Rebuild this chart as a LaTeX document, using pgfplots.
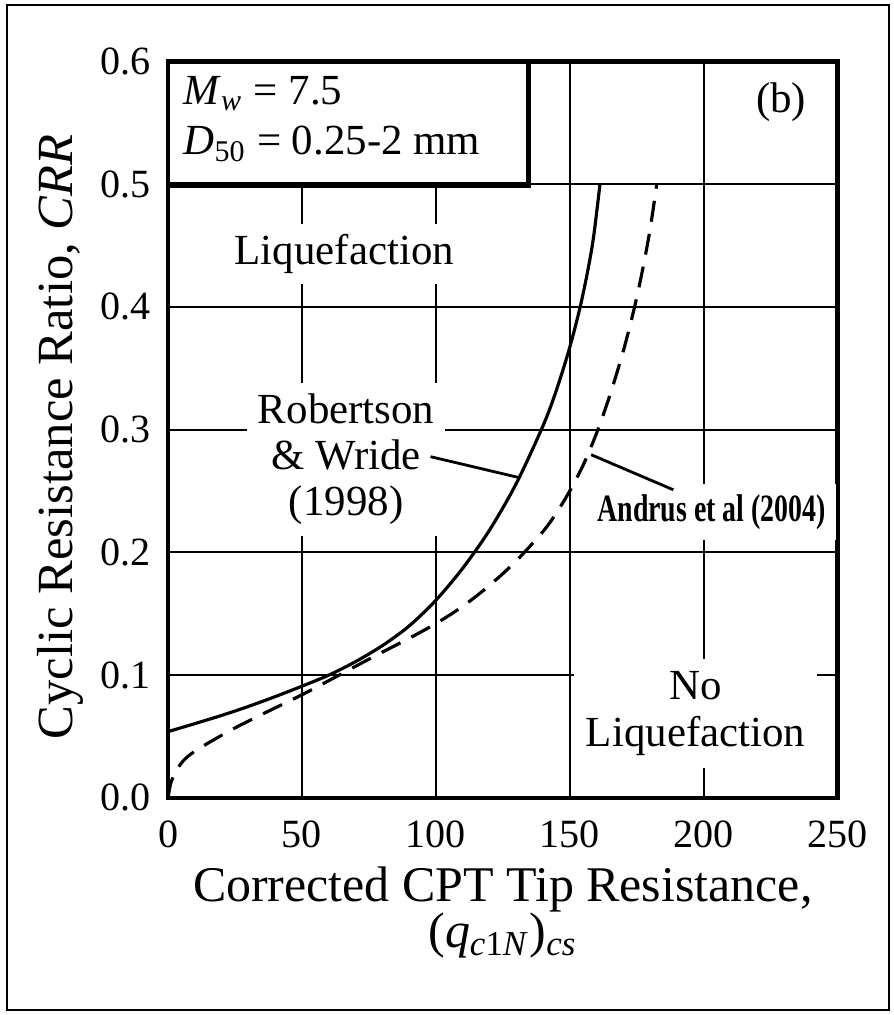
\documentclass[border=0pt]{standalone}
\usepackage{fontspec}
\setmainfont{Liberation Serif}
\usepackage{pgfplots}
\pgfplotsset{compat=1.18}
\pgfplotstableread{
q crr
0 0.054
10 0.0605
20 0.0672
30 0.0745
40 0.0825
50 0.091
60 0.100
70 0.111
80 0.124
90 0.140
100 0.161
110 0.187
120 0.218
130 0.256
140 0.303
145 0.332
150 0.367
154 0.401
157 0.4325
159 0.4585
161.3 0.500
}\robertson
\pgfplotstableread{
q crr
0 0.000
1 0.012
3 0.022
6 0.031
10 0.038
16 0.046
25 0.057
35 0.068
50 0.084
63 0.099
75 0.113
90 0.130
100 0.142
110 0.156
120 0.173
130 0.193
140 0.217
145 0.232
150 0.250
155 0.271
160 0.297
165 0.328
170 0.364
174 0.398
177 0.428
180 0.463
182.5 0.500
}\andrus
\begin{document}
\begin{tikzpicture}[x=0.01cm,y=0.01cm]
\path (0,0) rectangle (894,1015);
\draw[line width=0.6pt] (7,5) rectangle (889,1010);
\begin{axis}[
  at={(1.68cm,2.17cm)}, anchor=south west,
  width=6.69cm, height=7.36cm, scale only axis,
  xmin=0, xmax=250, ymin=0, ymax=0.6,
  xtick={0,50,100,150,200,250},
  ytick={0,0.1,0.2,0.3,0.4,0.5,0.6},
  grid=major,
  major grid style={black, line width=0.6pt},
  axis line style={line width=1.2pt},
  major tick length=0pt,
  tick label style={font=\fontsize{11.4}{13}\selectfont},
  /pgf/number format/assume math mode=true,
  yticklabel style={/pgf/number format/fixed,/pgf/number format/fixed zerofill,/pgf/number format/precision=1, xshift=-1.5pt},
  xticklabel style={yshift=-3pt},
  xlabel={Corrected CPT Tip Resistance,\\(\textit{q}\textsubscript{\textit{c}1\textit{N}})\textsubscript{\textit{cs}}},
  xlabel style={at={(axis description cs:0.5,-0.093)}, anchor=north, inner sep=0pt, align=center, font=\fontsize{14.2}{13}\selectfont},
  ylabel={Cyclic Resistance Ratio, \textit{CRR}},
  ylabel style={at={(axis description cs:-0.197,0.49)}, anchor=north, inner sep=0pt, font=\fontsize{14.4}{16}\selectfont},
  clip=false,
]
\addplot[black, line width=0.9pt, smooth] table[x=q,y=crr] {\robertson};
\addplot[black, line width=0.9pt, smooth, dash pattern=on 6pt off 3.5pt] table[x=q,y=crr] {\andrus};

\draw[line width=1.2pt, fill=white] (axis cs:0,0.5) rectangle (axis cs:134.5,0.6);
\draw[line width=0.6pt] (axis cs:0.5,0.4975) -- (axis cs:135.2,0.4975) -- (axis cs:135.2,0.6);
\node[anchor=base west, inner sep=0pt, font=\fontsize{12.2}{14}\selectfont] at (axis cs:5.5,0.565) {\textit{M}\textsubscript{\textit{w}} = 7.5};
\node[anchor=base west, inner sep=0pt, font=\fontsize{12.2}{14}\selectfont] at (axis cs:5.5,0.524) {\textit{D}\textsubscript{50} = 0.25-2 mm};

\node[font=\fontsize{12.2}{14}\selectfont] at (axis cs:229,0.567) {(b)};
\node[fill=white, inner sep=3pt, font=\fontsize{12.2}{14}\selectfont] at (axis cs:65.8,0.443) {Liquefaction};
\node[fill=white, inner sep=3pt, align=center, font=\fontsize{12.2}{13.2}\selectfont] at (axis cs:66.5,0.276) {Robertson\\\& Wride\\(1998)};
\node[fill=white, inner sep=3.5pt, align=center, font=\fontsize{12.2}{13.4}\selectfont] at (axis cs:197,0.069) {No\\Liquefaction};
\node[fill=white, inner sep=3pt, font=\fontsize{11}{13}\selectfont\bfseries] at (axis cs:203,0.233) {\scalebox{0.72}[1]{Andrus et al (2004)}};

\draw[line width=0.8pt] (axis cs:98,0.278) -- (axis cs:131,0.261);
\draw[line width=0.8pt] (axis cs:158,0.2796) -- (axis cs:188.7,0.251);
\end{axis}
\end{tikzpicture}
\end{document}
